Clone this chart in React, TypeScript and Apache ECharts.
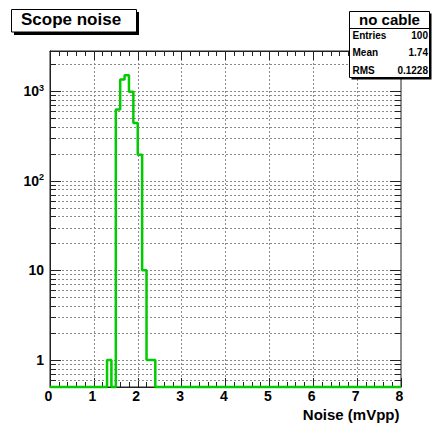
import React, { useEffect, useRef } from "react";
import * as echarts from "echarts";

// Histogram binning and contents
const xRange = [0, 8];
const binWidth = 0.1;
const binStart = [1.3, 1.4, 1.5, 1.6, 1.7, 1.8, 1.9, 2.0, 2.1, 2.2, 2.3];
const binCount = [1, 0, 625, 1350, 1500, 980, 440, 195, 10, 1, 1];

// Axis ranges and ticks
const yRange = [0.5, 2800];
const xTickLabels = ["0", "1", "2", "3", "4", "5", "6", "7", "8"];
const yMajorTicks = [1, 10, 100, 1000];
const yMinorTicks = [
  0.6, 0.7, 0.8, 0.9,
  2, 3, 4, 5, 6, 7, 8, 9,
  20, 30, 40, 50, 60, 70, 80, 90,
  200, 300, 400, 500, 600, 700, 800, 900,
  2000,
];

// Texts
const titleText = "Scope noise";
const xTitle = "Noise (mVpp)";
const statsTitle = "no cable";
const statsNames = ["Entries", "Mean", "RMS"];
const statsValues = ["100", "1.74", "0.1228"];

const FONT = '"Liberation Sans", Arial, Helvetica, sans-serif';

export default function App() {
  const ref = useRef<HTMLDivElement>(null);

  useEffect(() => {
    if (!ref.current) return;
    const chart = echarts.init(ref.current, undefined, { renderer: "svg" });

    // Build step outline over the full histogram range; empty bins sit on the axis floor
    const nBins = Math.round((xRange[1] - xRange[0]) / binWidth);
    const pts: number[][] = [];
    for (let i = 0; i < nBins; i++) {
      const lo = +(xRange[0] + i * binWidth).toFixed(4);
      const hi = +(lo + binWidth).toFixed(4);
      const idx = binStart.findIndex((s) => Math.abs(s - lo) < 1e-6);
      const c = idx >= 0 ? binCount[idx] : 0;
      const y = c > 0 ? c : yRange[0];
      pts.push([lo, y], [hi, y]);
    }

    const gridData = [
      ...yMajorTicks.map((v) => [xRange[0], v, 1]),
      ...yMinorTicks.map((v) => [xRange[0], v, 0]),
    ];

    const tickColor = "#222";
    const gridColor = "#8a8a8a";

    const xAxisCommon = {
      type: "value",
      min: xRange[0],
      max: xRange[1],
      interval: 1,
      axisLine: { show: true, lineStyle: { color: tickColor, width: 1 } },
      axisTick: { show: true, inside: true, length: 9, lineStyle: { color: tickColor } },
      minorTick: { show: true, splitNumber: 5, length: 5, lineStyle: { color: tickColor } },
    };

    const option: any = {
      animation: false,
      backgroundColor: "#fff",
      grid: {
        left: 50,
        right: 32,
        top: 51,
        bottom: 38,
        show: true,
        borderColor: tickColor,
        borderWidth: 1,
        backgroundColor: "transparent",
      },
      xAxis: [
        {
          ...xAxisCommon,
          position: "bottom",
          splitLine: { show: true, lineStyle: { color: gridColor, type: [2, 2], width: 1 } },
          axisLabel: {
            show: true,
            margin: 2,
            padding: [0, 3, 0, 0],
            color: "#000",
            fontFamily: FONT,
            fontWeight: "bold",
            fontSize: 14,
            lineHeight: 14,
            formatter: (v: number) => xTickLabels[Math.round(v - xRange[0])] ?? "",
          },
        },
        {
          ...xAxisCommon,
          position: "top",
          splitLine: { show: false },
          axisLabel: { show: false },
        },
      ],
      yAxis: {
        type: "log",
        logBase: 10,
        min: yRange[0],
        max: yRange[1],
        axisLine: { show: true, lineStyle: { color: tickColor, width: 1 } },
        axisTick: { show: false },
        splitLine: { show: false },
        axisLabel: {
          margin: 6,
          color: "#000",
          formatter: (v: number) => {
            const l = Math.log10(v);
            const e = Math.round(l);
            if (Math.abs(l - e) > 1e-6) return "";
            if (e === 0) return "{b|1}";
            if (e === 1) return "{b|10}";
            return `{b|10}{s|${e}}`;
          },
          rich: {
            b: { fontFamily: FONT, fontWeight: "bold", fontSize: 14, color: "#000", lineHeight: 16 },
            s: { fontFamily: FONT, fontWeight: "bold", fontSize: 9, color: "#000", verticalAlign: "top", lineHeight: 10 },
          },
        },
      },
      series: [
        {
          type: "custom",
          z: 1,
          silent: true,
          xAxisIndex: 0,
          coordinateSystem: "cartesian2d",
          encode: { x: 0, y: 1 },
          data: gridData,
          renderItem: (params: any, api: any) => {
            const v = api.value(1);
            const major = api.value(2) === 1;
            const pt = api.coord([xRange[0], v]);
            const cs = params.coordSys;
            const y = Math.round(pt[1]) + 0.5;
            const len = major ? 11 : 6;
            const x0 = cs.x;
            const x1 = cs.x + cs.width;
            return {
              type: "group",
              children: [
                {
                  type: "line",
                  shape: { x1: x0, y1: y, x2: x1, y2: y },
                  style: { stroke: gridColor, lineWidth: 1, lineDash: [2, 2] },
                },
                {
                  type: "line",
                  shape: { x1: x0, y1: y, x2: x0 + len, y2: y },
                  style: { stroke: tickColor, lineWidth: 1 },
                },
                {
                  type: "line",
                  shape: { x1: x1 - len, y1: y, x2: x1, y2: y },
                  style: { stroke: tickColor, lineWidth: 1 },
                },
              ],
            };
          },
        },
        {
          type: "line",
          z: 5,
          xAxisIndex: 0,
          data: pts,
          showSymbol: false,
          symbol: "none",
          clip: false,
          lineStyle: { color: "#00cc00", width: 2.5 },
          silent: true,
        },
      ],
      graphic: [
        // title box
        { type: "rect", z: 100, shape: { x: 14, y: 12, width: 125, height: 23 }, style: { fill: "#000" } },
        { type: "rect", z: 101, shape: { x: 11.5, y: 9.5, width: 125, height: 22.5 }, style: { fill: "#fff", stroke: "#000", lineWidth: 1 } },
        {
          type: "text", z: 102, x: 21, y: 19.5,
          style: { text: titleText, fill: "#000", font: `bold 17px ${FONT}`, align: "left", verticalAlign: "middle" },
        },
        // stats box
        { type: "rect", z: 100, shape: { x: 351.5, y: 13.5, width: 80, height: 66 }, style: { fill: "#000" } },
        { type: "rect", z: 101, shape: { x: 349.5, y: 11.5, width: 80, height: 66 }, style: { fill: "#fff", stroke: "#000", lineWidth: 1 } },
        { type: "line", z: 102, shape: { x1: 349.5, y1: 28.5, x2: 429.5, y2: 28.5 }, style: { stroke: "#000", lineWidth: 1 } },
        {
          type: "text", z: 102, x: 389.5, y: 19,
          style: { text: statsTitle, fill: "#000", font: `bold 15px ${FONT}`, align: "center", verticalAlign: "middle" },
        },
        ...statsNames.map((n, i) => ({
          type: "text", z: 102, x: 352.5, y: 35 + i * 17.7,
          style: { text: n, fill: "#000", font: `bold 10px ${FONT}`, align: "left", verticalAlign: "middle" },
        })),
        ...statsValues.map((n, i) => ({
          type: "text", z: 102, x: 428, y: 35 + i * 17.7,
          style: { text: n, fill: "#000", font: `bold 10px ${FONT}`, align: "right", verticalAlign: "middle" },
        })),
        // x axis title
        {
          type: "text", z: 102, x: 399.5, y: 414,
          style: { text: xTitle, fill: "#000", font: `bold 15px ${FONT}`, align: "right", verticalAlign: "middle" },
        },
      ],
    };

    chart.setOption(option);
    return () => chart.dispose();
  }, []);

  return (
    <div
      ref={ref}
      style={{ position: "absolute", left: 0, top: 0, width: 433, height: 425, background: "#fff" }}
    />
  );
}
